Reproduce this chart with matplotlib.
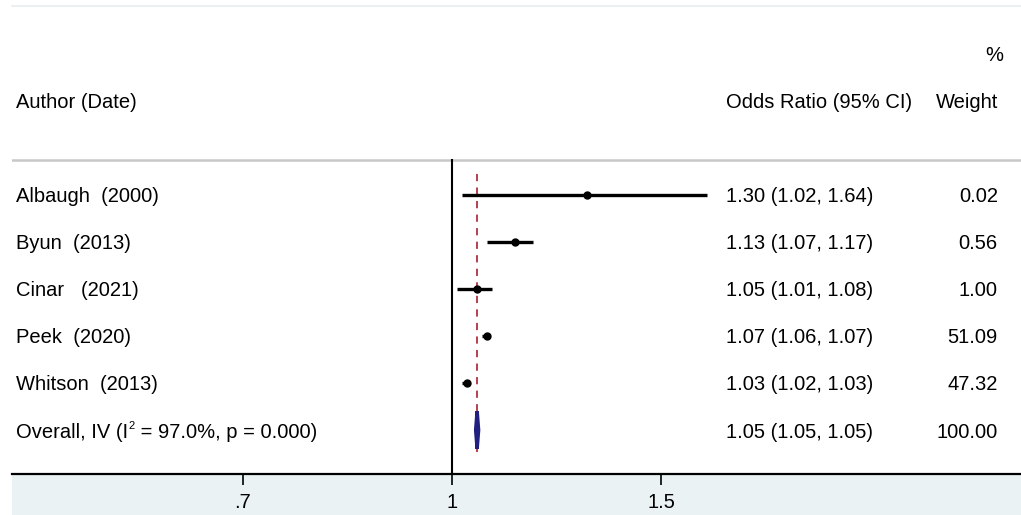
import numpy as np
import matplotlib
matplotlib.use("Agg")
import matplotlib.pyplot as plt
from matplotlib.patches import Rectangle, Polygon

plt.rcParams["font.family"] = ["Liberation Sans", "DejaVu Sans"]

# study data
studies = ["Albaugh  (2000)", "Byun  (2013)", "Cinar   (2021)", "Peek  (2020)", "Whitson  (2013)"]
odds = [1.30, 1.13, 1.05, 1.07, 1.03]
ci_low = [1.02, 1.07, 1.01, 1.06, 1.02]
ci_high = [1.64, 1.17, 1.08, 1.07, 1.03]
weights = [0.02, 0.56, 1.00, 51.09, 47.32]

i2 = 97.0
p_het = 0.000
overall_or = 1.05
overall_low = 1.047
overall_high = 1.053
overall_weight = 100.00

tick_vals = [1 / 1.5, 1, 1.5]
tick_labels = [".7", "1", "1.5"]

W, H = 1021, 515
fig = plt.figure(figsize=(W / 100, H / 100), dpi=100)

# shaded band under the axis
fig.patches.append(Rectangle((12 / W, 0), 1 - 12 / W, 41 / H, transform=fig.transFigure,
                             facecolor="#eaf2f3", edgecolor="none", zorder=-5))

ax = fig.add_axes([12 / W, 41 / H, (W - 12) / W, 468 / H])
ax.set_zorder(2)
ax.set_xscale("log")
ax.set_xlim(0.426, 3.015)
ax.set_ylim(0.064, 10.02)
ax.patch.set_alpha(0)

for s in ["left", "right"]:
    ax.spines[s].set_visible(False)
ax.spines["top"].set_color("#e6eeee")
ax.spines["top"].set_linewidth(1.2)
ax.spines["bottom"].set_linewidth(1.6)

ax.set_yticks([])
ax.set_xticks(tick_vals)
ax.set_xticklabels(tick_labels, fontsize=14.5)
ax.xaxis.set_minor_locator(matplotlib.ticker.NullLocator())
ax.xaxis.set_minor_formatter(matplotlib.ticker.NullFormatter())
ax.tick_params(axis="x", direction="out", length=8, width=1.2, pad=6)

n = len(studies)
ys = [n + 1 - i for i in range(n)]
fs = 14.5
tr = ax.get_yaxis_transform()
va = "center_baseline"

# header
ax.axhline(6.74, color="#c8c8c8", lw=1.8)
ax.text(0.004, 8, "Author (Date)", transform=tr, fontsize=fs, va=va)
ax.text(0.7076, 8, "Odds Ratio (95% CI)", transform=tr, fontsize=fs, va=va)
ax.text(0.977, 8, "Weight", transform=tr, fontsize=fs, va=va, ha="right")
ax.text(0.982, 9, "%", transform=tr, fontsize=fs, va=va, ha="right")

# null line and overall line
ax.plot([1, 1], [0.064, 6.74], color="black", lw=1.5)
ax.plot([overall_or, overall_or], [0.53, 6.49], color="#b03040", lw=1.3,
        dashes=(4, 3.5))

for y, name, o, lo, hi, w in zip(ys, studies, odds, ci_low, ci_high, weights):
    ax.plot([lo, hi], [y, y], color="black", lw=2.4, solid_capstyle="butt")
    ax.plot(o, y, "o", color="black", ms=5)
    ax.text(0.004, y, name, transform=tr, fontsize=fs, va=va)
    ax.text(0.7076, y, f"{o:.2f} ({lo:.2f}, {hi:.2f})", transform=tr, fontsize=fs, va=va)
    ax.text(0.977, y, f"{w:.2f}", transform=tr, fontsize=fs, va=va, ha="right")

# overall diamond
yo = 1
dia = Polygon([[overall_low, yo], [overall_or, yo + 0.40], [overall_high, yo], [overall_or, yo - 0.40]],
              closed=True, facecolor="#14146e", edgecolor="#202080", lw=2.5, zorder=3)
ax.add_patch(dia)
t1 = ax.text(0.004, yo, "Overall, IV (I", transform=tr, fontsize=fs, va=va)
t2 = ax.annotate("2", xy=(1, 1), xycoords=t1, xytext=(0.5, 1), textcoords="offset points",
                 fontsize=8, va="top", ha="left")
ax.annotate(f" = {i2:.1f}%, p = {p_het:.3f})", xy=(1, 0), xycoords=t1, xytext=(5, 0),
            textcoords="offset points", fontsize=fs, va="bottom", ha="left")
ax.text(0.7076, yo, f"{overall_or:.2f} ({overall_low:.2f}, {overall_high:.2f})", transform=tr,
        fontsize=fs, va=va)
ax.text(0.977, yo, f"{overall_weight:.2f}", transform=tr, fontsize=fs, va=va, ha="right")

fig.savefig("out.png", dpi=100, facecolor="white")
